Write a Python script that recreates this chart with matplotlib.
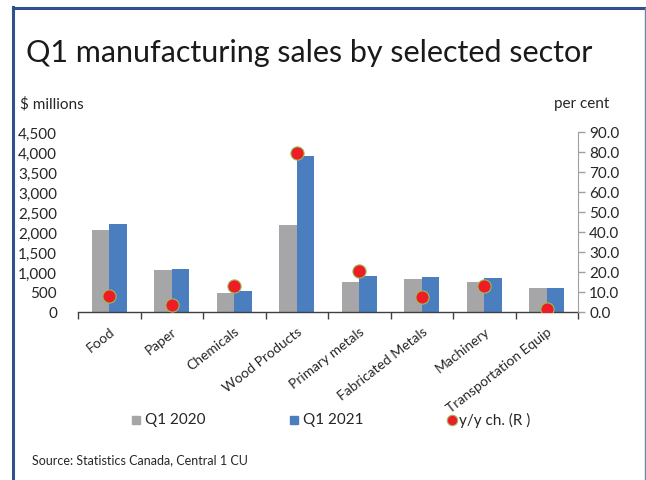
import matplotlib
matplotlib.use("Agg")
import matplotlib.pyplot as plt
import numpy as np
from matplotlib.lines import Line2D
from matplotlib.patches import Rectangle

categories = ["Food", "Paper", "Chemicals", "Wood Products", "Primary metals",
              "Fabricated Metals", "Machinery", "Transportation Equip"]
q1_2020 = [2050, 1050, 475, 2175, 760, 815, 760, 590]
q1_2021 = [2190, 1075, 525, 3900, 910, 885, 860, 600]
yy_change = [7.8, 3.5, 13.2, 79.7, 20.3, 7.7, 13.2, 1.3]
left_ticks = [0, 500, 1000, 1500, 2000, 2500, 3000, 3500, 4000, 4500]
right_ticks = [0, 10, 20, 30, 40, 50, 60, 70, 80, 90]

GRAY = "#A6A6A8"
BLUE = "#4A7EBF"
RED = "#EE1C25"
EDGE = "#9BBB59"
TXT = "#262626"
FONT = "Lato"

W, H = 646, 481
fig = plt.figure(figsize=(W / 100, H / 100), dpi=100)
plt.rcParams['font.family'] = [FONT, 'DejaVu Sans']

# frame
fig.add_artist(Line2D([12.5 / W, 646 / W], [1 - 9 / H, 1 - 9 / H], color="#2F528F", lw=2.2,
                      transform=fig.transFigure))
fig.add_artist(Line2D([13 / W, 13 / W], [1 - 8 / H, 0], color="#2F528F", lw=2.2,
                      transform=fig.transFigure))
fig.add_artist(Line2D([644.5 / W, 644.5 / W], [1 - 9 / H, 0], color="#6F82A8", lw=1,
                      transform=fig.transFigure))

ax_l, ax_r, ax_t, ax_b = 78, 578, 133, 313
ax = fig.add_axes([ax_l / W, 1 - ax_b / H, (ax_r - ax_l) / W, (ax_b - ax_t) / H])
x = np.arange(len(categories))
bw = 0.283
ax.bar(x - bw / 2, q1_2020, width=bw, color=GRAY, zorder=2)
ax.bar(x + bw / 2, q1_2021, width=bw, color=BLUE, zorder=2)
ax.set_xlim(-0.5, len(categories) - 0.5)
ax.set_ylim(0, 4500)
ax.set_yticks(left_ticks)
ax.set_yticklabels([f"{v:,}" for v in left_ticks], fontsize=11, color=TXT)
ax.tick_params(axis="y", length=0, pad=15)
ax.set_xticks(x)
ax.set_xticklabels(categories, rotation=38, ha="right", rotation_mode="anchor",
                   fontsize=10, color=TXT)
ax.tick_params(axis="x", length=0, pad=9)
ax.set_xticks(np.arange(len(categories) + 1) - 0.5, minor=True)
ax.tick_params(axis="x", which="minor", length=5, width=1, color="#404040", direction="out")
for s in ["top", "left", "right"]:
    ax.spines[s].set_visible(False)
ax.spines["bottom"].set_color("#404040")
ax.spines["bottom"].set_linewidth(1)

ax2 = ax.twinx()
ax2.set_ylim(0, 90)
ax2.plot(x, yy_change, linestyle="none", marker="o", markersize=9.5,
         markerfacecolor=RED, markeredgecolor=EDGE, markeredgewidth=0.8, zorder=5)
ax2.set_yticks(right_ticks)
ax2.set_yticklabels([f"{v:.1f}" for v in right_ticks], fontsize=11, color=TXT)
ax2.tick_params(axis="y", length=5, width=1, color="#A0A0A0", pad=3)
for s in ["top", "left", "bottom"]:
    ax2.spines[s].set_visible(False)
ax2.spines["right"].set_color("#A0A0A0")

# texts
fig.text(26 / W, 1 - 53 / H, "Q1 manufacturing sales by selected sector", fontsize=22,
         color="#1a1a1a", va="center", ha="left")
fig.text(20 / W, 1 - 104 / H, "$ millions", fontsize=11, color=TXT, va="center", ha="left")
fig.text(609 / W, 1 - 104 / H, "per cent", fontsize=11, color=TXT, va="center", ha="right")
fig.text(32 / W, 1 - 460 / H, "Source: Statistics Canada, Central 1 CU", fontsize=9,
         color=TXT, va="center", ha="left")

# legend
ly = 1 - 420.5 / H
fig.add_artist(Rectangle((132 / W, ly - 4 / H), 8 / W, 8 / H, color=GRAY, transform=fig.transFigure))
fig.text(145 / W, ly, "Q1 2020", fontsize=11, color=TXT, va="center", ha="left")
fig.add_artist(Rectangle((290 / W, ly - 4 / H), 8 / W, 8 / H, color=BLUE, transform=fig.transFigure))
fig.text(303 / W, ly, "Q1 2021", fontsize=11, color=TXT, va="center", ha="left")
fig.add_artist(Line2D([452 / W], [ly], marker="o", markersize=7.5, markerfacecolor=RED,
                      markeredgecolor=EDGE, markeredgewidth=0.8, transform=fig.transFigure))
fig.text(459 / W, ly, "y/y ch. (R )", fontsize=11, color=TXT, va="center", ha="left")

fig.savefig("out.png", dpi=100)
